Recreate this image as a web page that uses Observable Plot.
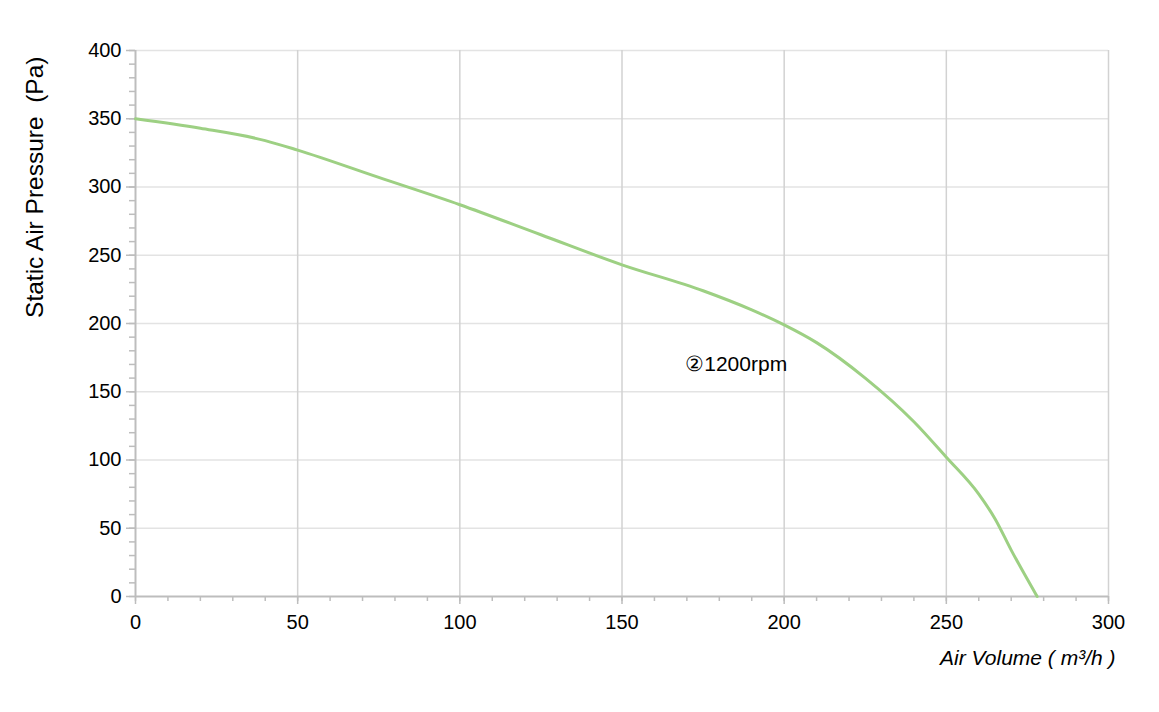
<!DOCTYPE html>
<html>
<head>
<meta charset="utf-8">
<script src="https://cdn.jsdelivr.net/npm/d3@7"></script>
<script src="https://cdn.jsdelivr.net/npm/@observablehq/plot@0.6"></script>
<style>
  html, body { margin: 0; padding: 0; background: #fff; }
  body { font-family: "Liberation Sans", Arial, sans-serif; }
</style>
</head>
<body>
<div id="chart"></div>
<script>
const airVolume = [0, 20, 40, 50, 75, 100, 125, 150, 175, 190, 200, 210, 225, 240, 250, 260, 265, 270, 278];
const pressure  = [350, 343, 334, 327, 307, 287, 265, 243, 224, 210, 199, 186, 160, 128, 102, 75, 57, 34, 0];
const xTicks = [0, 50, 100, 150, 200, 250, 300];
const yTicks = [0, 50, 100, 150, 200, 250, 300, 350, 400];
const xMinor = d3.range(0, 301, 10);
const yMinor = d3.range(0, 401, 10);
const curveLabel = "②1200rpm";
const labelPos = {x: 169.5, y: 170};
const xTitle = "Air Volume ( m³/h )";
const yTitle = "Static Air Pressure  (Pa)";

const data = airVolume.map((v, i) => ({x: v, y: pressure[i]}));
const axisColor = "#bdbdbd";

const chart = Plot.plot({
  width: 1159,
  height: 712,
  marginLeft: 135,
  marginRight: 51,
  marginTop: 50,
  marginBottom: 116,
  style: {fontFamily: "Liberation Sans, Arial, sans-serif", fontSize: "20px", color: "#000", background: "#fff"},
  x: {domain: [0, 300]},
  y: {domain: [0, 400]},
  marks: [
    Plot.ruleY(yTicks.filter(d => d > 0), {stroke: "#e3e3e3", strokeWidth: 1.5}),
    Plot.ruleX(xTicks.filter(d => d > 0), {stroke: "#d2d2d2", strokeWidth: 1.5}),
    Plot.axisX({ticks: xMinor, tickSize: 5, text: null, label: null, stroke: axisColor, strokeWidth: 1.5}),
    Plot.axisY({ticks: yMinor, tickSize: 6, text: null, label: null, stroke: axisColor, strokeWidth: 1.5}),
    Plot.axisX({ticks: xTicks, tickSize: 8, tickPadding: 10, stroke: axisColor, strokeWidth: 1.5, label: null, fill: "#000", fontSize: 20}),
    Plot.axisY({ticks: yTicks, tickSize: 9, tickPadding: 5, stroke: axisColor, strokeWidth: 1.5, label: null, fill: "#000", fontSize: 20}),
    Plot.ruleY([0], {stroke: axisColor, strokeWidth: 2}),
    Plot.ruleX([0], {stroke: axisColor, strokeWidth: 2}),
    Plot.line(data, {x: "x", y: "y", stroke: "#9dd083", strokeWidth: 3, curve: "monotone-x"}),
    Plot.text([curveLabel], {x: labelPos.x, y: labelPos.y, text: d => d, textAnchor: "start", fontSize: 21, fill: "#000"}),
    Plot.text([xTitle], {frameAnchor: "bottom-right", dx: 7, dy: 68, text: d => d, textAnchor: "end", fontStyle: "italic", fontSize: 21, fill: "#000"}),
    Plot.text([yTitle], {frameAnchor: "top-left", dx: -110, dy: 6, rotate: -90, text: d => d, textAnchor: "end", fontSize: 24.5, fill: "#000"})
  ]
});
document.getElementById("chart").appendChild(chart);
</script>
</body>
</html>
